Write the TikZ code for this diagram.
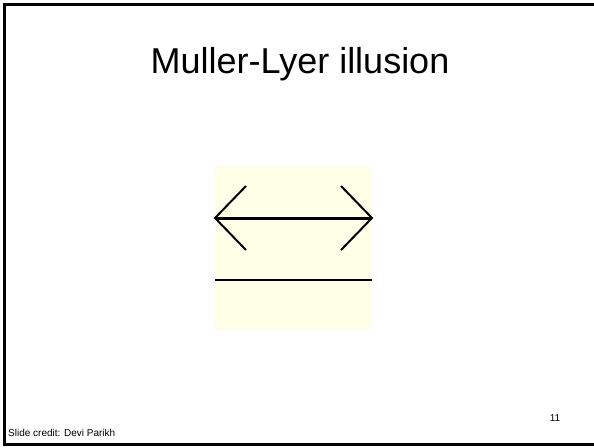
\documentclass[tikz,border=0pt]{standalone}
\usepackage{fontspec}
\setmainfont{Liberation Sans}
\usepackage{tikz}
\usetikzlibrary{positioning,calc}
\definecolor{paleyellow}{RGB}{255,255,232}

\begin{document}
\begin{tikzpicture}[x=1pt,y=-1pt,
  fin/.style={line width=2pt},
  shaft/.style={line width=3pt}]
\useasboundingbox (0,0) rectangle (594,447);
\draw[line width=2.5pt] (600,4.5)--(4.5,4.5)--(4.5,444.5)--(600,444.5);
\node (title) [anchor=base,inner sep=0pt] at (300,73) {\fontsize{36}{40}\selectfont Muller-Lyer illusion};
\fill[paleyellow] (215,166) rectangle (372,330);
\coordinate (left) at (215,218);
\coordinate (right) at (372,218);
\coordinate (lowleft) at (215,280);
\coordinate (lowright) at (372,280);
\draw[shaft] (left)--(right);
\draw[fin] (246,186)--(left)--(246,250);
\draw[fin] (341,186)--(right)--(341,250);
\draw[line width=2pt] (lowleft)--(lowright);
\node (credit) [anchor=base west,inner sep=0pt] at (8,436) {\fontsize{10}{12}\selectfont Slide credit: Devi Parikh};
\node (page) [anchor=base,inner sep=0pt] at (555,421.5) {\fontsize{10}{12}\selectfont 11};
\end{tikzpicture}
\end{document}
